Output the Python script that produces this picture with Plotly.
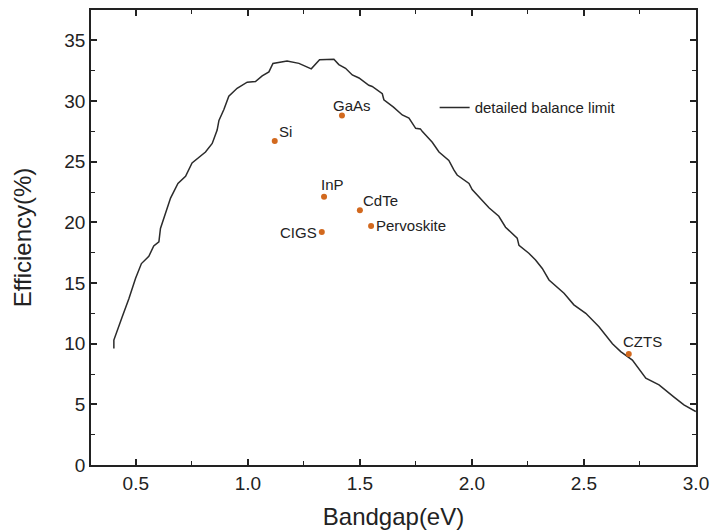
import plotly.graph_objects as go

# Detailed balance limit curve
limit_bandgap = [0.402, 0.402, 0.439, 0.469, 0.499, 0.525, 0.558, 0.580, 0.603, 0.610,
                 0.655, 0.688, 0.722, 0.751, 0.811, 0.841, 0.863, 0.871, 0.893, 0.915,
                 0.952, 0.997, 1.034, 1.064, 1.094, 1.112, 1.175, 1.228, 1.283, 1.320,
                 1.384, 1.406, 1.436, 1.466, 1.496, 1.540, 1.555, 1.600, 1.607, 1.650,
                 1.689, 1.719, 1.749, 1.770, 1.778, 1.823, 1.853, 1.897, 1.920, 1.934,
                 1.987, 2.001, 2.076, 2.120, 2.150, 2.202, 2.210, 2.254, 2.284, 2.314,
                 2.344, 2.411, 2.455, 2.508, 2.567, 2.627, 2.664, 2.716, 2.776, 2.835,
                 2.902, 2.946, 2.999]
limit_eff = [9.6, 10.3, 12.2, 13.7, 15.4, 16.6, 17.2, 18.05, 18.4, 19.5,
             22.0, 23.2, 23.8, 24.9, 25.8, 26.5, 27.6, 28.4, 29.3, 30.4,
             31.05, 31.55, 31.6, 32.07, 32.4, 33.1, 33.3, 33.1, 32.65, 33.4,
             33.45, 33.0, 32.7, 32.15, 31.9, 31.3, 31.2, 30.6, 30.1, 29.5,
             28.85, 28.6, 27.75, 27.7, 27.5, 26.6, 25.8, 25.1, 24.3, 23.9,
             23.2, 22.7, 21.2, 20.5, 19.6, 18.7, 18.1, 17.45, 16.9, 16.2,
             15.25, 14.15, 13.2, 12.5, 11.4, 10.0, 9.35, 8.65, 7.15, 6.6,
             5.6, 4.95, 4.4]

materials = ["Si", "GaAs", "InP", "CIGS", "CdTe", "Pervoskite", "CZTS"]
mat_bandgap = [1.12, 1.42, 1.34, 1.33, 1.50, 1.55, 2.70]
mat_eff = [26.7, 28.8, 22.1, 19.2, 21.0, 19.7, 9.15]

# label offsets in pixels (styling only)
label_dx = [11, 10, 8, -23, 21, 40, 14]
label_dy = [10, 10, 12, 0, 10, 0, 12]

FONT = "Liberation Sans, Arial, sans-serif"
INK = "#222222"

fig = go.Figure()
fig.add_trace(go.Scatter(
    x=limit_bandgap, y=limit_eff, mode="lines",
    line=dict(color="#2b2b2b", width=1.5),
    name="detailed balance limit", showlegend=True))
fig.add_trace(go.Scatter(
    x=mat_bandgap, y=mat_eff, mode="markers",
    marker=dict(color="#D2691E", size=6),
    showlegend=False, cliponaxis=False))

for name, xv, yv, dx, dy in zip(materials, mat_bandgap, mat_eff, label_dx, label_dy):
    fig.add_annotation(x=xv, y=yv, text=name, showarrow=False,
                       xanchor="center", yanchor="middle",
                       xshift=dx, yshift=dy,
                       font=dict(family=FONT, size=15, color=INK))

axis_common = dict(
    showline=True, linecolor=INK, linewidth=1.5, mirror="allticks",
    ticks="inside", ticklen=6, tickwidth=1.5, tickcolor=INK,
    showgrid=False, zeroline=False, automargin=False,
    tickfont=dict(family=FONT, size=19, color=INK),
)

fig.update_layout(
    template="none",
    width=712, height=531,
    margin=dict(l=91, r=16, t=10, b=66),
    paper_bgcolor="white", plot_bgcolor="white",
    font=dict(family=FONT, color=INK),
    xaxis=dict(range=[0.3, 3.0], dtick=0.5, tick0=0.5, tickformat=".1f",
               title=dict(text="Bandgap(eV)", font=dict(size=24), standoff=16),
               minor=dict(dtick=0.25, ticks="inside", ticklen=4, tickwidth=1.2, tickcolor=INK),
               **axis_common),
    yaxis=dict(range=[0, 37.5], dtick=5, tick0=0,
               title=dict(text="Efficiency(%)", font=dict(size=24), standoff=26),
               minor=dict(dtick=2.5, ticks="inside", ticklen=4, tickwidth=1.2, tickcolor=INK),
               **axis_common),
    legend=dict(x=0.568, y=0.785, xanchor="left", yanchor="middle",
                bgcolor="rgba(0,0,0,0)", borderwidth=0,
                font=dict(family=FONT, size=15, color=INK)),
)

fig.write_html("out.html")
